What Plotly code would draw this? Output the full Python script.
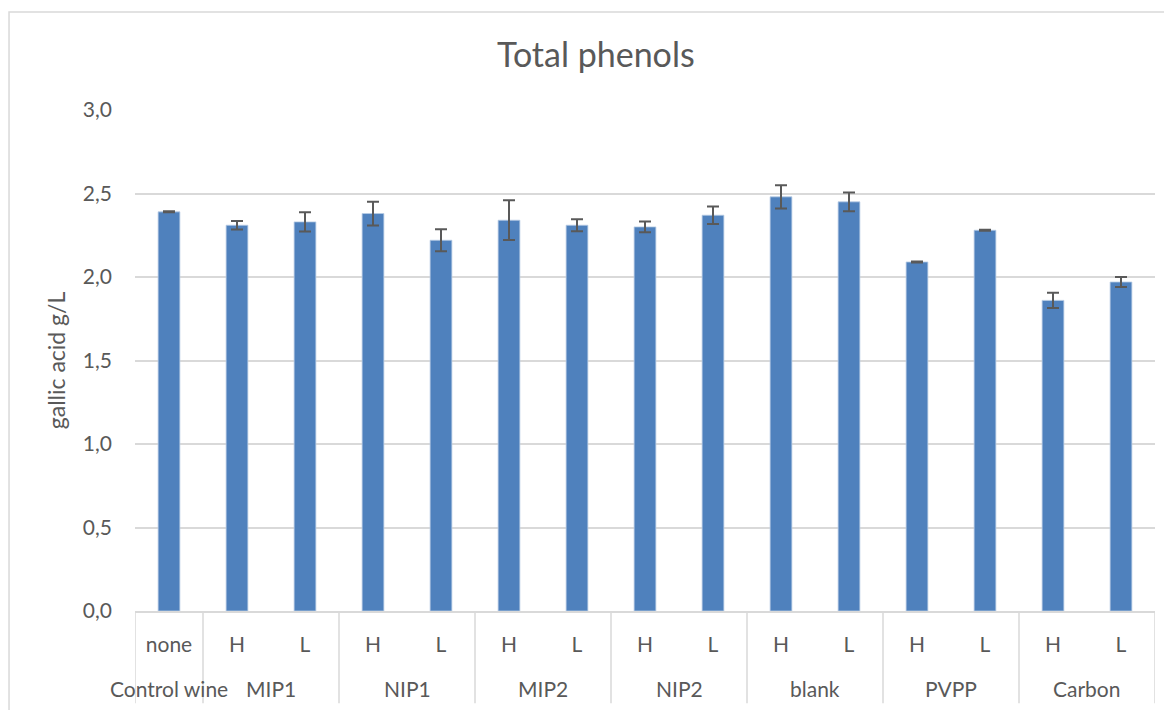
import plotly.graph_objects as go

# treatment groups and sub-levels (H = high dose, L = low dose)
groups = ["Control wine", "MIP1", "NIP1", "MIP2", "NIP2", "blank", "PVPP", "Carbon"]
subs_per_group = [["none"], ["H", "L"], ["H", "L"], ["H", "L"], ["H", "L"],
                  ["H", "L"], ["H", "L"], ["H", "L"]]

# total phenols, gallic acid g/L
phenols = [2.39, 2.31, 2.33, 2.38, 2.22, 2.34, 2.31, 2.30, 2.37,
           2.48, 2.45, 2.09, 2.28, 1.86, 1.97]
phenols_err = [0.003, 0.025, 0.058, 0.071, 0.066, 0.119, 0.036, 0.032, 0.052,
               0.070, 0.056, 0.003, 0.003, 0.046, 0.030]

sub_labels = [s for subs in subs_per_group for s in subs]
x = list(range(len(sub_labels)))

GRAY = "#595959"
LINE = "#d9d9d9"
FONT = "Lato"

fig = go.Figure()
fig.add_trace(go.Bar(
    x=x, y=phenols, width=0.32,
    marker=dict(color="#4f81bd", line=dict(color="#b9cde5", width=0.8)),
    error_y=dict(type="data", array=phenols_err, color=GRAY, thickness=2, width=6),
    showlegend=False,
))

# group labels and dividers below the axis
shapes = []
annotations = []
start = 0
bounds = [-0.5]
for g, subs in zip(groups, subs_per_group):
    n = len(subs)
    center = start + (n - 1) / 2
    annotations.append(dict(
        x=center, y=-0.155, xref="x", yref="paper", text=g, showarrow=False,
        font=dict(family=FONT, size=21, color=GRAY), yanchor="middle",
    ))
    start += n
    bounds.append(start - 0.5)

for b in bounds:
    shapes.append(dict(type="line", xref="x", yref="paper", x0=b, x1=b,
                       y0=0, y1=-0.184, line=dict(color=LINE, width=1.5)))

# outer chart border (page body already adds 8px offset)
shapes.append(dict(type="rect", xref="paper", yref="paper",
                   x0=-0.1235, x1=1.03, y0=-0.25, y1=1.1956,
                   line=dict(color=LINE, width=1.5), layer="below"))

fig.update_layout(
    width=1164, height=702,
    margin=dict(l=127, r=17, t=102, b=99),
    paper_bgcolor="white", plot_bgcolor="white",
    title=dict(text="Total phenols", x=0.505, xanchor="center", y=0.933, yanchor="middle",
               font=dict(family=FONT, size=34, color=GRAY)),
    font=dict(family=FONT, color=GRAY),
    xaxis=dict(
        range=[-0.5, len(x) - 0.5], tickmode="array", tickvals=x, ticktext=sub_labels,
        showgrid=False, showline=True, linecolor=LINE, linewidth=1.5,
        ticks="", ticklabelstandoff=14, tickfont=dict(family=FONT, size=21, color=GRAY),
        zeroline=False,
    ),
    yaxis=dict(
        range=[0, 3.0], tickmode="array", tickvals=[0, 0.5, 1.0, 1.5, 2.0, 2.5, 3.0],
        ticktext=["0,0", "0,5", "1,0", "1,5", "2,0", "2,5", "3,0"],
        showgrid=True, gridcolor=LINE, gridwidth=1.5, zeroline=False,
        showline=False, ticks="", ticklabelstandoff=22,
        tickfont=dict(family=FONT, size=21, color=GRAY),
        title=dict(text="gallic acid g/L", standoff=10,
                   font=dict(family=FONT, size=23, color=GRAY)),
    ),
    shapes=shapes,
    annotations=annotations,
    bargap=0.68,
)

fig.write_html("out.html")
